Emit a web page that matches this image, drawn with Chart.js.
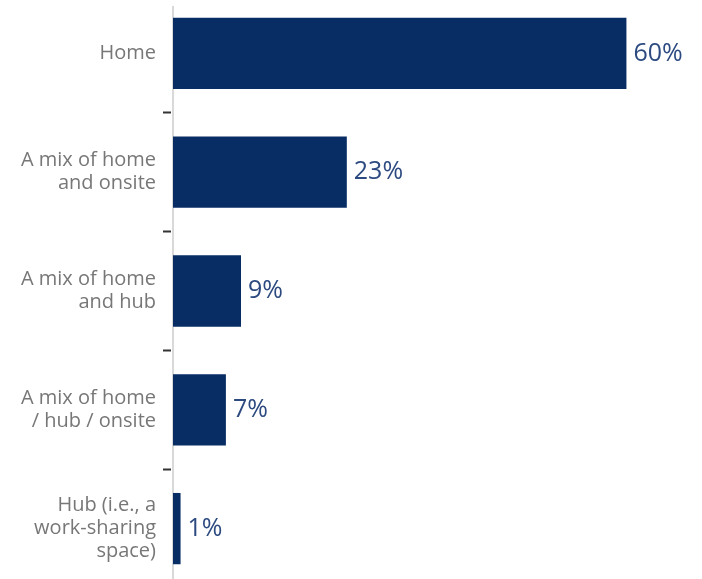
<!DOCTYPE html>
<html>
<head>
<meta charset="utf-8">
<script src="https://cdn.jsdelivr.net/npm/chart.js@4.4.1/dist/chart.umd.min.js"></script>
<style>
  html, body { margin: 0; padding: 0; background: #fff; overflow: hidden; }
  #wrap { position: absolute; left: 0; top: -6px; width: 702px; height: 594px; }
</style>
</head>
<body>
<div id="wrap"><canvas id="bars"></canvas></div>
<script>
const categories = [
  'Home',
  ['A mix of home', 'and onsite'],
  ['A mix of home', 'and hub'],
  ['A mix of home', '/ hub / onsite'],
  ['Hub (i.e., a', 'work-sharing', 'space)']
];
const shares = [60, 23, 9, 7, 1];

// percent text to the right of each bar
const valueLabels = {
  id: 'valueLabels',
  afterDatasetsDraw(chart) {
    const c = chart.ctx;
    const meta = chart.getDatasetMeta(0);
    c.save();
    c.font = '25px "Open Sans"';
    c.fillStyle = '#2c4a80';
    c.textAlign = 'left';
    c.textBaseline = 'middle';
    meta.data.forEach((bar, i) => {
      c.fillText(shares[i] + '%', bar.x + 7, bar.y);
    });
    c.restore();
  }
};

// light gray axis line, starting a little below the top
const axisLine = {
  id: 'axisLine',
  beforeDatasetsDraw(chart) {
    const c = chart.ctx;
    const x = chart.chartArea.left;
    c.save();
    c.strokeStyle = '#d9d9d9';
    c.lineWidth = 2;
    c.beginPath();
    c.moveTo(x, chart.chartArea.top + 12);
    c.lineTo(x, chart.chartArea.bottom);
    c.stroke();
    c.restore();
  }
};

new Chart(document.getElementById('bars'), {
  type: 'bar',
  data: {
    labels: categories,
    datasets: [{
      data: shares,
      backgroundColor: '#082d64',
      borderWidth: 0,
      barPercentage: 0.6,
      categoryPercentage: 1
    }]
  },
  options: {
    indexAxis: 'y',
    responsive: true,
    maintainAspectRatio: false,
    animation: false,
    layout: { padding: 0 },
    plugins: { legend: { display: false }, tooltip: { enabled: false } },
    scales: {
      x: { display: false, min: 0, max: 70 },
      y: {
        afterFit(scale) {
          scale.width = 173;
          // labels sit inside their bands, no extra room needed above/below
          scale.paddingTop = 0;
          scale.paddingBottom = 0;
        },
        border: { display: false },
        grid: {
          offset: true,
          drawOnChartArea: false,
          tickLength: 10,
          tickWidth: 2,
          tickColor: '#333',
          tickBorderDash: [8, 20]
        },
        ticks: {
          padding: 7,
          color: '#777',
          font: { family: '"Open Sans"', size: 20, lineHeight: 1.15 }
        }
      }
    }
  },
  plugins: [valueLabels, axisLine]
});
</script>
</body>
</html>
